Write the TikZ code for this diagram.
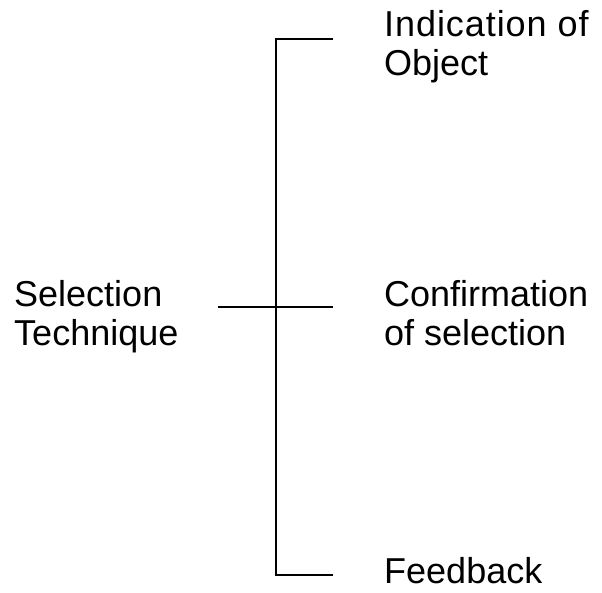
\documentclass[tikz,border=0pt]{standalone}
\usepackage{fontspec}
\setmainfont{Liberation Sans}
\begin{document}
\begin{tikzpicture}[x=1pt,y=1pt,
  label/.style={inner sep=0pt, anchor=base west, align=left,
    font=\fontsize{36}{39}\selectfont},
  wire/.style={line width=1.3pt, black}]
\useasboundingbox[fill=white] (0,0) rectangle (602,-592);
% text blocks (anchored at the baseline of their last line)
\node[label] (sel) at (14,-345) {Selection\\Technique};
\node[label] (ind) at (384,-75) {{\addfontfeature{LetterSpace=2.6}Indication of}\\Object};
\node[label] (conf) at (384,-345) {Confirmation\\of selection};
\node[label] (feed) at (384,-583) {Feedback};
% bracket end points
\coordinate (top) at (276,-39);
\coordinate (topend) at (333,-39);
\coordinate (bot) at (276,-575);
\coordinate (botend) at (333,-575);
\coordinate (midl) at (218,-307);
\coordinate (midr) at (333,-307);
% bracket
\draw[wire] (topend) -- (top) -- (bot) -- (botend);
\draw[wire] (midl) -- (midr);
\end{tikzpicture}
\end{document}
